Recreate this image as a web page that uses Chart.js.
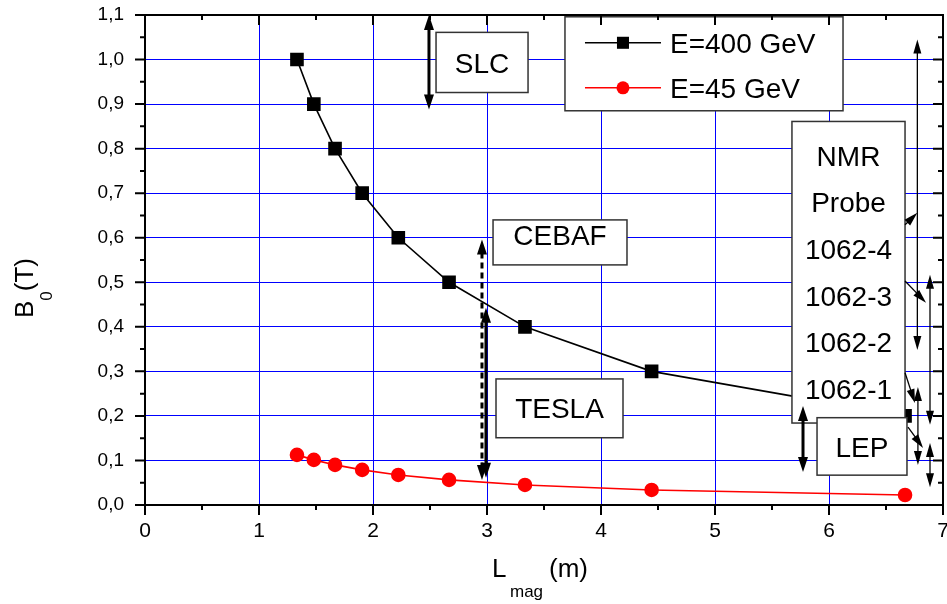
<!DOCTYPE html>
<html>
<head>
<meta charset="utf-8">
<script src="https://cdn.jsdelivr.net/npm/chart.js@4/dist/chart.umd.min.js"></script>
<style>
  body { margin: 0; background: #fff; }
  canvas { display: block; }
</style>
</head>
<body>
<canvas id="chart" width="947" height="604"></canvas>
<script>
// magnet length (m) and field (T) for the two beam energies
const magLength = [1.333, 1.481, 1.667, 1.905, 2.222, 2.667, 3.333, 4.444, 6.667];
const field400 = [1.0, 0.9, 0.8, 0.7, 0.6, 0.5, 0.4, 0.3, 0.2];
const field45 = [0.1125, 0.1013, 0.09, 0.0788, 0.0675, 0.0563, 0.045, 0.0338, 0.0225];
const seriesNames = ['E=400 GeV', 'E=45 GeV'];
const xTickValues = [0, 1, 2, 3, 4, 5, 6, 7];
const yTickValues = [0, 0.1, 0.2, 0.3, 0.4, 0.5, 0.6, 0.7, 0.8, 0.9, 1.0, 1.1];

const FONT = "'Liberation Sans', Arial, sans-serif";

// text boxes, in data coordinates
const boxes = [
    { lines: ['SLC'], x0: 2.553, x1: 3.360, y0: 0.926, y1: 1.061, ty: 0.993 },
    { lines: ['CEBAF'], x0: 3.053, x1: 4.228, y0: 0.539, y1: 0.640, ty: 0.607 },
    { lines: ['TESLA'], x0: 3.079, x1: 4.193, y0: 0.151, y1: 0.283, ty: 0.218 },
    { lines: ['NMR', 'Probe', '1062-4', '1062-3', '1062-2', '1062-1'], x0: 5.675, x1: 6.667, y0: 0.184, y1: 0.861, ty: 0.784, step: 0.1046 },
    { lines: ['LEP'], x0: 5.895, x1: 6.684, y0: 0.067, y1: 0.196, ty: 0.130 }
];

// arrows, in data coordinates
const arrows = [
    { x0: 2.491, y0: 1.1, x1: 2.491, y1: 0.888, both: true, thick: true },
    { x0: 2.956, y0: 0.596, x1: 2.956, y1: 0.056, both: true, thick: true, dash: true },
    { x0: 2.991, y0: 0.443, x1: 2.991, y1: 0.061, both: true, thick: true },
    { x0: 5.772, y0: 0.222, x1: 5.772, y1: 0.074, both: true, thick: true },
    { x0: 6.775, y0: 1.045, x1: 6.775, y1: 0.348, both: true },
    { x0: 6.667, y0: 0.629, x1: 6.775, y1: 0.656 },
    { x0: 6.667, y0: 0.503, x1: 6.851, y1: 0.454 },
    { x0: 6.886, y0: 0.517, x1: 6.886, y1: 0.180, both: true },
    { x0: 6.667, y0: 0.297, x1: 6.754, y1: 0.229 },
    { x0: 6.780, y0: 0.265, x1: 6.780, y1: 0.090, both: true },
    { x0: 6.693, y0: 0.175, x1: 6.825, y1: 0.128 },
    { x0: 6.886, y0: 0.139, x1: 6.886, y1: 0.040, both: true }
];

function toPoints(xs, ys) {
    return xs.map((v, i) => ({ x: v, y: ys[i] }));
}

function arrowHead(ctx, x, y, angle, len, half) {
    ctx.beginPath();
    ctx.moveTo(x, y);
    ctx.lineTo(x - len * Math.cos(angle) + half * Math.sin(angle), y - len * Math.sin(angle) - half * Math.cos(angle));
    ctx.lineTo(x - len * Math.cos(angle) - half * Math.sin(angle), y - len * Math.sin(angle) + half * Math.cos(angle));
    ctx.closePath();
    ctx.fill();
}

function drawArrow(ctx, ax, ay, bx, by, a) {
    const len = a.thick ? 15 : 14;
    const half = a.thick ? 5 : 4;
    const angle = Math.atan2(by - ay, bx - ax);
    const dx = Math.cos(angle) * (len - 2), dy = Math.sin(angle) * (len - 2);
    ctx.strokeStyle = '#000';
    ctx.fillStyle = '#000';
    ctx.lineWidth = a.thick ? 3 : 1.3;
    ctx.setLineDash(a.dash ? [6, 4] : []);
    ctx.beginPath();
    ctx.moveTo(a.both ? ax + dx : ax, a.both ? ay + dy : ay);
    ctx.lineTo(bx - dx, by - dy);
    ctx.stroke();
    ctx.setLineDash([]);
    arrowHead(ctx, bx, by, angle, len, half);
    if (a.both) arrowHead(ctx, ax, ay, angle + Math.PI, len, half);
}

const annotations = {
    id: 'annotations',
    afterDatasetsDraw(chart) {
        const { ctx, scales: { x, y } } = chart;
        ctx.save();

        boxes.forEach(b => {
            const left = x.getPixelForValue(b.x0), right = x.getPixelForValue(b.x1);
            const top = y.getPixelForValue(b.y1), bottom = y.getPixelForValue(b.y0);
            ctx.fillStyle = '#fff';
            ctx.fillRect(left, top, right - left, bottom - top);
            ctx.strokeStyle = '#333';
            ctx.lineWidth = 1.5;
            ctx.strokeRect(left, top, right - left, bottom - top);
            ctx.fillStyle = '#000';
            ctx.font = '28px ' + FONT;
            ctx.textAlign = 'center';
            ctx.textBaseline = 'alphabetic';
            b.lines.forEach((t, i) => {
                const cy = y.getPixelForValue(b.ty - i * (b.step || 0));
                ctx.fillText(t, (left + right) / 2, cy + 10);
            });
        });

        arrows.forEach(a => {
            drawArrow(ctx, x.getPixelForValue(a.x0), y.getPixelForValue(a.y0),
                x.getPixelForValue(a.x1), y.getPixelForValue(a.y1), a);
        });

        // legend box
        const lx0 = x.getPixelForValue(3.684), lx1 = x.getPixelForValue(6.123);
        const ly0 = y.getPixelForValue(1.096), ly1 = y.getPixelForValue(0.885);
        ctx.fillStyle = '#fff';
        ctx.fillRect(lx0, ly0, lx1 - lx0, ly1 - ly0);
        ctx.strokeStyle = '#333';
        ctx.lineWidth = 1.5;
        ctx.strokeRect(lx0, ly0, lx1 - lx0, ly1 - ly0);
        chart.data.datasets.forEach((ds, i) => {
            const ry = ly0 + 26 + i * 45;
            ctx.strokeStyle = ds.borderColor;
            ctx.lineWidth = ds.borderWidth;
            ctx.beginPath();
            ctx.moveTo(lx0 + 20, ry);
            ctx.lineTo(lx0 + 96, ry);
            ctx.stroke();
            ctx.fillStyle = ds.backgroundColor;
            if (ds.pointStyle === 'rect') {
                const s = ds.pointRadius * Math.SQRT1_2;
                ctx.fillRect(lx0 + 58 - s, ry - s, 2 * s, 2 * s);
            } else {
                ctx.beginPath();
                ctx.arc(lx0 + 58, ry, ds.pointRadius, 0, Math.PI * 2);
                ctx.fill();
            }
            ctx.fillStyle = '#000';
            ctx.font = '28px ' + FONT;
            ctx.textAlign = 'left';
            ctx.fillText(ds.label, lx0 + 105, ry + 10);
        });

        ctx.restore();
    }
};

const frame = {
    id: 'frame',
    afterDraw(chart) {
        const { ctx, chartArea: a, scales: { x, y } } = chart;
        ctx.save();
        ctx.strokeStyle = '#000';
        ctx.lineWidth = 2;
        ctx.beginPath();
        for (let v = 0; v <= 14; v++) {
            const px = x.getPixelForValue(v * 0.5);
            const len = v % 2 === 0 ? 10 : 5;
            ctx.moveTo(px, a.bottom); ctx.lineTo(px, a.bottom + len);
            ctx.moveTo(px, a.top); ctx.lineTo(px, a.top + len);
        }
        for (let v = 0; v <= 22; v++) {
            const py = y.getPixelForValue(v * 0.05);
            const len = v % 2 === 0 ? 10 : 5;
            ctx.moveTo(a.left, py); ctx.lineTo(a.left - len, py);
            ctx.moveTo(a.right, py); ctx.lineTo(a.right - len, py);
        }
        ctx.stroke();
        ctx.strokeRect(a.left, a.top, a.right - a.left, a.bottom - a.top);

        // axis titles
        ctx.fillStyle = '#000';
        ctx.textBaseline = 'alphabetic';
        ctx.textAlign = 'left';
        ctx.font = '26px ' + FONT;
        ctx.fillText('L', 492, 577);
        ctx.fillText('(m)', 549, 577);
        ctx.font = '17px ' + FONT;
        ctx.fillText('mag', 510, 597);

        ctx.translate(33, 318);
        ctx.rotate(-Math.PI / 2);
        ctx.font = '26px ' + FONT;
        ctx.fillText('B', 0, 0);
        const bw = ctx.measureText('B').width;
        ctx.font = '17px ' + FONT;
        ctx.fillText('0', bw, 19);
        const zw = ctx.measureText('0').width;
        ctx.font = '26px ' + FONT;
        ctx.fillText('(T)', bw + zw, 0);
        ctx.restore();
    }
};

new Chart(document.getElementById('chart'), {
    type: 'scatter',
    data: {
        datasets: [
            {
                label: seriesNames[0],
                data: toPoints(magLength, field400),
                showLine: true,
                borderColor: '#000',
                backgroundColor: '#000',
                borderWidth: 1.6,
                pointStyle: 'rect',
                pointRadius: 8.5,
                pointHoverRadius: 8.5
            },
            {
                label: seriesNames[1],
                data: toPoints(magLength, field45),
                showLine: true,
                borderColor: '#ff0000',
                backgroundColor: '#ff0000',
                borderWidth: 1.6,
                pointStyle: 'circle',
                pointRadius: 6.5,
                pointHoverRadius: 6.5
            }
        ]
    },
    options: {
        responsive: false,
        animation: false,
        devicePixelRatio: 1,
        layout: { autoPadding: false, padding: { top: 15, right: 4, left: 0, bottom: 0 } },
        plugins: {
            legend: { display: false },
            tooltip: { enabled: false }
        },
        scales: {
            x: {
                type: 'linear',
                min: 0,
                max: 7,
                afterFit: function (scale) {
                    scale.height = 99;
                    scale.paddingLeft = 0;
                    scale.paddingRight = 0;
                },
                afterBuildTicks: function (scale) { scale.ticks = xTickValues.map(v => ({ value: v })); },
                border: { display: false },
                grid: { color: '#0000ff', lineWidth: 1, drawTicks: true, tickLength: 10, tickColor: 'rgba(0,0,0,0)' },
                ticks: {
                    color: '#000',
                    padding: 4,
                    maxRotation: 0,
                    font: { family: FONT, size: 21 },
                    callback: function (value) { return String(value); }
                }
            },
            y: {
                type: 'linear',
                min: 0,
                max: 1.1,
                afterFit: function (scale) {
                    scale.width = 145;
                    scale.paddingTop = 0;
                    scale.paddingBottom = 0;
                },
                afterBuildTicks: function (scale) { scale.ticks = yTickValues.map(v => ({ value: v })); },
                border: { display: false },
                grid: { color: '#0000ff', lineWidth: 1, drawTicks: true, tickLength: 10, tickColor: 'rgba(0,0,0,0)' },
                ticks: {
                    color: '#000',
                    padding: 11,
                    font: { family: FONT, size: 19 },
                    callback: function (value) { return value.toFixed(1).replace('.', ','); }
                }
            }
        }
    },
    plugins: [annotations, frame]
});
</script>
</body>
</html>
